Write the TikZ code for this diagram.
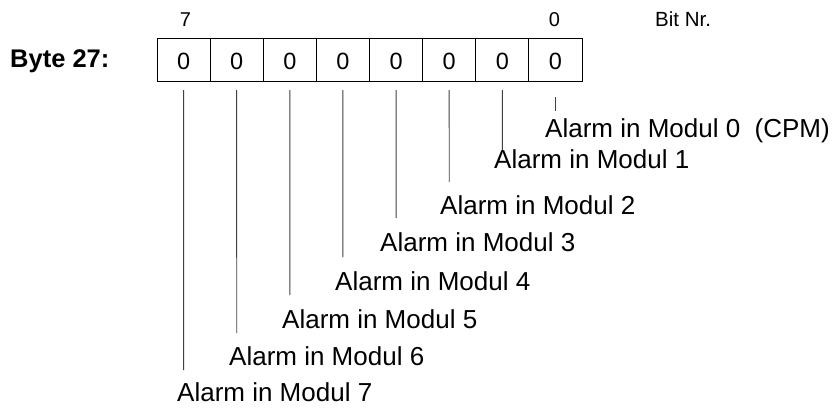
\documentclass[tikz,border=0pt]{standalone}
\usepackage{fontspec}
\setmainfont{Liberation Sans}
\begin{document}
\begin{tikzpicture}[x=1pt,y=-1pt,
  lbl/.style={inner sep=0pt,anchor=base west,font=\fontsize{26}{30}\selectfont},
  bitnum/.style={inner sep=0pt,anchor=base,font=\fontsize{20}{24}\selectfont},
  cell/.style={draw=black,line width=0.9pt,minimum width=53.125pt,minimum height=43pt,inner sep=0pt,outer sep=0pt},
  digit/.style={inner sep=0pt,anchor=base,font=\fontsize{23.5}{27}\selectfont},
  lead/.style={draw=black!75,line width=0.9pt}]
\useasboundingbox (0,0) rectangle (837,408);
% title
\node[inner sep=0pt,anchor=base west,font=\fontsize{25.5}{30}\selectfont\bfseries] (title) at (10,67) {Byte 27:};
% bit numbers
\node[bitnum] (n7) at (185.5,26) {7};
\node[bitnum] (n0) at (554.5,26) {0};
\node[inner sep=0pt,anchor=base west,font=\fontsize{20.5}{24}\selectfont] (bitnr) at (655,26) {Bit Nr.};
% cells
\foreach \i in {0,...,7}{
  \pgfmathsetmacro{\cx}{157+26.5625+53.125*(7-\i)}
  \node[cell] (c\i) at (\cx,59.5) {};
  \node[digit] (d\i) at (\cx,69.5) {0};
  \coordinate (t\i) at (\cx,90);
}
\coordinate (t0) at (555.4,97);
% line ends
\coordinate (e0) at (555.4,111);
\coordinate (e1) at (502.3,150);
\coordinate (e2) at (449.2,182);
\coordinate (e3) at (396.1,218);
\coordinate (e4) at (342.9,257);
\coordinate (e5) at (289.8,295);
\coordinate (e6) at (236.7,333);
\coordinate (e7) at (183.6,370);
\foreach \i in {0,...,7}{ \draw[lead] (t\i) -- (e\i); }
% labels
\node[lbl] (m0) at (545,137) {Alarm in Modul 0\ \ (CPM)};
\node[lbl] (m1) at (494,168) {Alarm in Modul 1};
\node[lbl] (m2) at (440,214) {Alarm in Modul 2};
\node[lbl] (m3) at (380,251) {Alarm in Modul 3};
\node[lbl] (m4) at (335,290) {Alarm in Modul 4};
\node[lbl] (m5) at (282,328) {Alarm in Modul 5};
\node[lbl] (m6) at (229,365) {Alarm in Modul 6};
\node[lbl] (m7) at (177,401.5) {Alarm in Modul 7};
\end{tikzpicture}
\end{document}
